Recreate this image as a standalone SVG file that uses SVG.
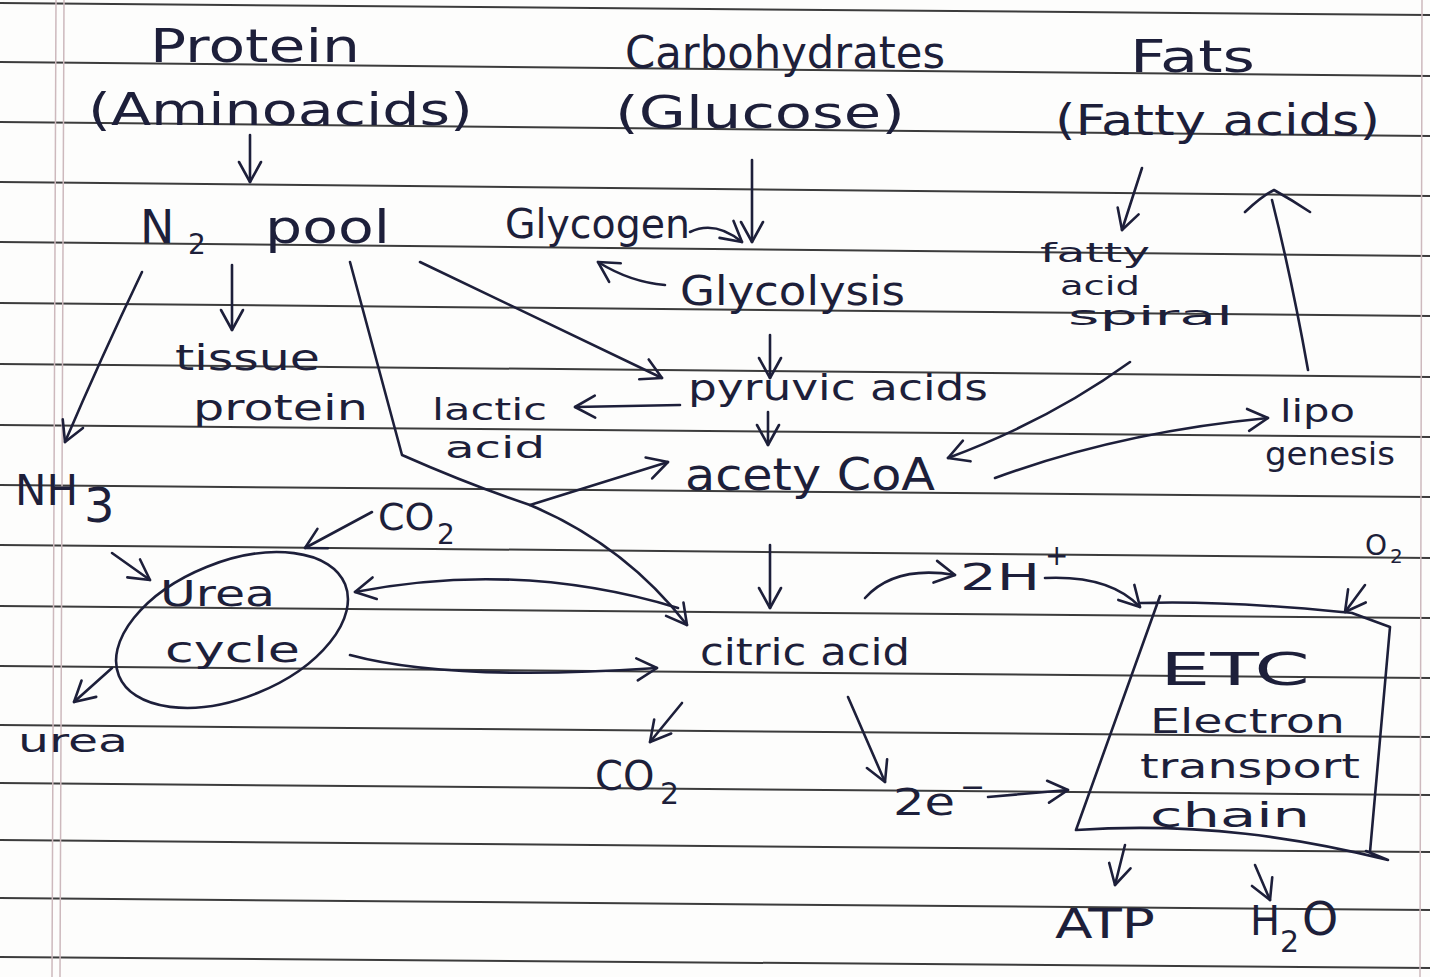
<svg xmlns="http://www.w3.org/2000/svg" width="1430" height="977" viewBox="0 0 1430 977">
<style>
.paper{stroke:#3c3c3c;stroke-width:2;fill:none}
.margin{stroke:#cdb9bd;stroke-width:1.5;fill:none}
.ink{fill:#1d1f3a;font-family:"DejaVu Sans","Liberation Sans",sans-serif}
.c{stroke:#1d1f3a;stroke-width:2.6;fill:none;stroke-linecap:round;stroke-linejoin:round}
.a{marker-end:url(#v)}
</style>
<defs>
<marker id="v" markerUnits="userSpaceOnUse" markerWidth="30" markerHeight="30" viewBox="0 0 30 30" refX="26" refY="15" orient="auto">
<path d="M6,4 L26,15 L6,26" fill="none" stroke="#1d1f3a" stroke-width="2.6" stroke-linecap="round" stroke-linejoin="round"/>
</marker>
</defs>
<rect width="1430" height="977" fill="#fdfdfc"/>
<g id="paper">
<path class="paper" d="M0,3 L1430,15 M0,62 L1430,76 M0,122 L1430,136 M0,182 L1430,196 M0,242 L1430,256 M0,303 L1430,316 M0,364 L1430,377 M0,425 L1430,437 M0,485 L1430,497 M0,545 L1430,558 M0,606 L1430,618 M0,666 L1430,678 M0,725 L1430,737 M0,783 L1430,795 M0,840 L1430,852 M0,898 L1430,910 M0,957 L1430,968"/>
<path class="margin" d="M56,0 L52,977 M64,0 L60,977 M1422,0 L1420,977"/>
</g>
<g id="connectors">
<path class="c a" d="M250,135 L250,182"/>
<path class="c a" d="M752,160 L752,242"/>
<path class="c a" d="M690,232 Q715,220 742,242"/>
<path class="c a" d="M665,285 Q630,282 598,262"/>
<path class="c a" d="M1142,168 L1122,230"/>
<path class="c a" d="M232,265 L232,330"/>
<path class="c a" d="M142,272 Q100,360 65,442"/>
<path class="c a" d="M420,262 L662,378"/>
<path class="c a" d="M350,262 L402,455 Q470,485 530,505 Q625,545 687,625"/>
<path class="c a" d="M530,505 L668,462"/>
<path class="c a" d="M770,335 L770,378"/>
<path class="c a" d="M768,412 L768,445"/>
<path class="c a" d="M680,405 L575,407"/>
<path class="c a" d="M1130,362 Q1050,420 948,458"/>
<path class="c a" d="M995,478 Q1120,432 1268,418"/>
<path class="c" d="M1308,370 Q1292,280 1272,200 M1245,212 Q1262,196 1274,190 Q1292,200 1310,212"/>
<path class="c a" d="M372,512 L305,548"/>
<path class="c a" d="M112,553 L150,580"/>
<path class="c a" d="M112,668 L74,702"/>
<path class="c a" d="M678,608 Q520,560 355,592"/>
<path class="c a" d="M350,655 Q450,682 657,668"/>
<path class="c a" d="M770,545 L770,608"/>
<path class="c a" d="M865,598 Q895,565 955,575"/>
<path class="c a" d="M1045,578 Q1110,575 1140,607"/>
<path class="c a" d="M1365,585 L1345,612"/>
<path class="c a" d="M848,697 L885,782"/>
<path class="c a" d="M988,797 L1068,790"/>
<path class="c a" d="M682,703 L650,742"/>
<path class="c a" d="M1125,845 L1115,885"/>
<path class="c a" d="M1255,865 L1270,900"/>
</g>
<g id="protein"><text class="ink" x="150" y="62" font-size="46" textLength="210" lengthAdjust="spacingAndGlyphs">Protein</text>
<text class="ink" x="88" y="125" font-size="44" textLength="385" lengthAdjust="spacingAndGlyphs">(Aminoacids)</text></g>
<g id="carbohydrates"><text class="ink" x="625" y="68" font-size="44" textLength="320" lengthAdjust="spacingAndGlyphs">Carbohydrates</text>
<text class="ink" x="615" y="128" font-size="44" textLength="290" lengthAdjust="spacingAndGlyphs">(Glucose)</text></g>
<g id="fats"><text class="ink" x="1130" y="72" font-size="44" textLength="125" lengthAdjust="spacingAndGlyphs">Fats</text>
<text class="ink" x="1055" y="135" font-size="42" textLength="325" lengthAdjust="spacingAndGlyphs">(Fatty acids)</text></g>
<g id="n2pool"><text class="ink" x="140" y="243" font-size="46">N<tspan x="188" y="254" font-size="28">2</tspan><tspan x="265" y="243" textLength="125" lengthAdjust="spacingAndGlyphs">pool</tspan></text></g>
<g id="glycogen"><text class="ink" x="505" y="238" font-size="40" textLength="185" lengthAdjust="spacingAndGlyphs">Glycogen</text></g>
<g id="glycolysis"><text class="ink" x="680" y="305" font-size="40" textLength="225" lengthAdjust="spacingAndGlyphs">Glycolysis</text></g>
<g id="tissue-protein"><text class="ink" x="175" y="370" font-size="36" textLength="145" lengthAdjust="spacingAndGlyphs">tissue</text>
<text class="ink" x="193" y="420" font-size="36" textLength="175" lengthAdjust="spacingAndGlyphs">protein</text></g>
<g id="lactic-acid"><text class="ink" x="432" y="420" font-size="30" textLength="115" lengthAdjust="spacingAndGlyphs">lactic</text>
<text class="ink" x="445" y="458" font-size="30" textLength="100" lengthAdjust="spacingAndGlyphs">acid</text></g>
<g id="pyruvic"><text class="ink" x="688" y="400" font-size="36" textLength="300" lengthAdjust="spacingAndGlyphs">pyruvic acids</text></g>
<g id="acetyl-coa"><text class="ink" x="685" y="490" font-size="44" textLength="250" lengthAdjust="spacingAndGlyphs">acety CoA</text></g>
<g id="fatty-acid-spiral"><text class="ink" x="1040" y="262" font-size="26" textLength="110" lengthAdjust="spacingAndGlyphs">fatty</text>
<text class="ink" x="1060" y="295" font-size="26" textLength="80" lengthAdjust="spacingAndGlyphs">acid</text>
<text class="ink" x="1068" y="325" font-size="26" textLength="165" lengthAdjust="spacingAndGlyphs">spiral</text></g>
<g id="lipogenesis"><text class="ink" x="1280" y="422" font-size="32" textLength="75" lengthAdjust="spacingAndGlyphs">lipo</text>
<text class="ink" x="1265" y="465" font-size="32" textLength="130" lengthAdjust="spacingAndGlyphs">genesis</text></g>
<g id="nh3"><text class="ink" x="15" y="505" font-size="42">NH<tspan x="84" y="522" font-size="48">3</tspan></text></g>
<g id="co2-top"><text class="ink" x="378" y="530" font-size="38">CO<tspan x="437" y="544" font-size="28">2</tspan></text></g>
<g id="urea-cycle"><ellipse cx="232" cy="630" rx="122" ry="68" transform="rotate(-22 232 630)" class="c"/>
<text class="ink" x="160" y="606" font-size="36" textLength="115" lengthAdjust="spacingAndGlyphs">Urea</text>
<text class="ink" x="165" y="662" font-size="36" textLength="135" lengthAdjust="spacingAndGlyphs">cycle</text></g>
<g id="urea"><text class="ink" x="18" y="752" font-size="32" textLength="110" lengthAdjust="spacingAndGlyphs">urea</text></g>
<g id="citric-acid"><text class="ink" x="700" y="665" font-size="38" textLength="210" lengthAdjust="spacingAndGlyphs">citric acid</text></g>
<g id="h-plus"><text class="ink" x="960" y="590" font-size="38" textLength="80" lengthAdjust="spacingAndGlyphs">2H</text><text class="ink" x="1045" y="565" font-size="28">+</text></g>
<g id="o2"><text class="ink" x="1365" y="555" font-size="28">O<tspan x="1390" y="563" font-size="20">2</tspan></text></g>
<g id="co2-bottom"><text class="ink" x="595" y="790" font-size="40">CO<tspan x="660" y="804" font-size="30">2</tspan></text></g>
<g id="electrons"><text class="ink" x="893" y="815" font-size="38" textLength="62" lengthAdjust="spacingAndGlyphs">2e</text><text class="ink" x="960" y="797" font-size="30">−</text></g>
<g id="etc"><path class="c" d="M1160,596 L1076,830 M1140,603 C1230,600 1320,610 1352,613 L1390,627 L1370,852 M1076,830 C1200,822 1300,838 1388,860 L1366,851"/>
<text class="ink" x="1160" y="685" font-size="44" textLength="150" lengthAdjust="spacingAndGlyphs">ETC</text>
<text class="ink" x="1150" y="733" font-size="34" textLength="195" lengthAdjust="spacingAndGlyphs">Electron</text>
<text class="ink" x="1140" y="778" font-size="34" textLength="220" lengthAdjust="spacingAndGlyphs">transport</text>
<text class="ink" x="1150" y="827" font-size="34" textLength="160" lengthAdjust="spacingAndGlyphs">chain</text></g>
<g id="atp"><text class="ink" x="1055" y="938" font-size="40" textLength="100" lengthAdjust="spacingAndGlyphs">ATP</text></g>
<g id="h2o"><text class="ink" x="1250" y="935" font-size="40">H<tspan x="1280" y="952" font-size="30">2</tspan><tspan x="1302" y="935" font-size="46">O</tspan></text></g>
</svg>
